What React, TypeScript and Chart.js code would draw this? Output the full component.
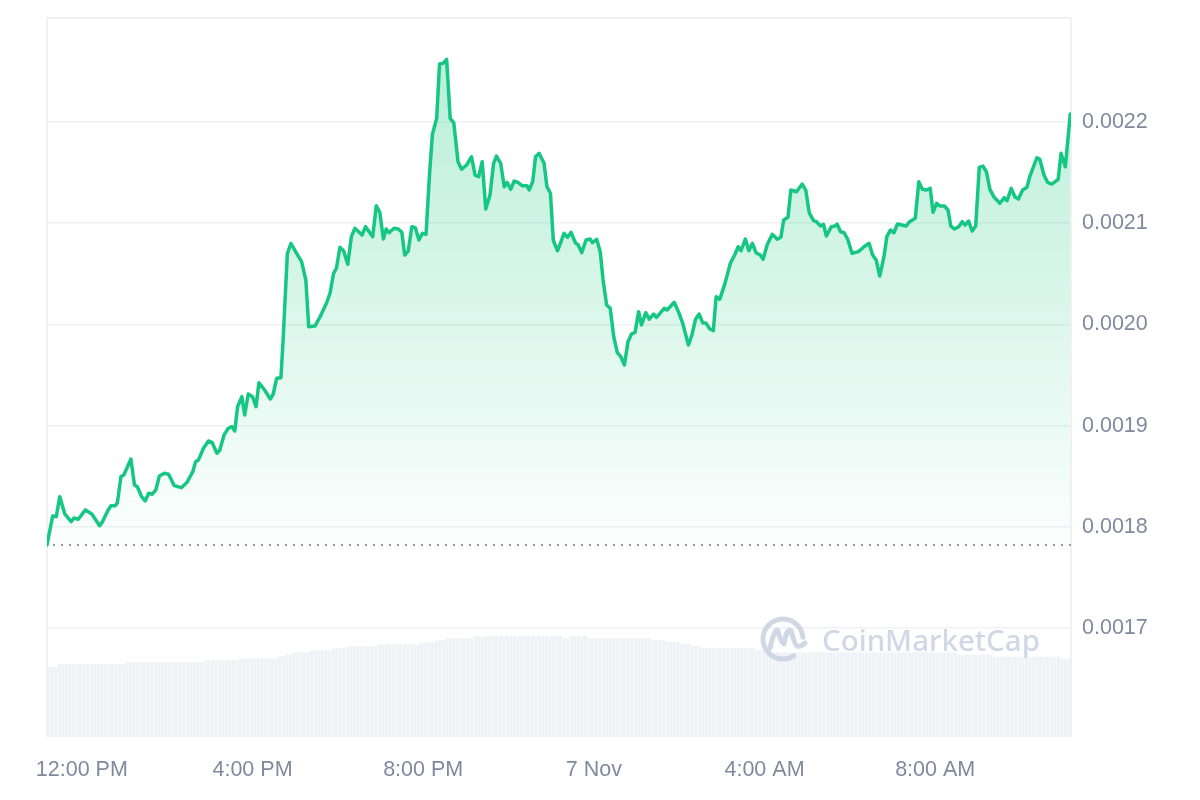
import React, { useEffect, useRef } from "react";
import { Chart, registerables } from "chart.js";
Chart.register(...registerables);

// minutes since 00:00, 6 Nov
const priceTimes = [
  671, 679, 684, 689, 696, 705, 709, 715, 725, 734,
  745, 749, 757, 761, 767, 770, 775, 779, 789, 794,
  798, 804, 809, 814, 819, 824, 829, 836, 842, 850,
  860, 868, 876, 880, 884, 891, 898, 903, 910, 914,
  920, 926, 931, 935, 939, 945, 949, 954, 960, 965,
  969, 977, 985, 989, 994, 1000, 1003, 1009, 1014, 1022,
  1029, 1035, 1039, 1048, 1055, 1064, 1069, 1074, 1078, 1083,
  1088, 1094, 1099, 1104, 1114, 1119, 1129, 1134, 1139, 1144,
  1148, 1152, 1159, 1165, 1170, 1174, 1179, 1184, 1189, 1194,
  1199, 1204, 1209, 1213, 1219, 1223, 1228, 1233, 1238, 1243,
  1249, 1254, 1261, 1268, 1273, 1278, 1283, 1288, 1294, 1299,
  1303, 1309, 1314, 1318, 1323, 1328, 1334, 1339, 1346, 1349,
  1354, 1358, 1363, 1370, 1374, 1379, 1383, 1389, 1393, 1398,
  1403, 1408, 1414, 1418, 1423, 1429, 1435, 1438, 1444, 1449,
  1453, 1458, 1463, 1468, 1473, 1478, 1483, 1488, 1493, 1498,
  1503, 1507, 1513, 1518, 1524, 1528, 1539, 1543, 1553, 1559,
  1565, 1573, 1578, 1583, 1588, 1593, 1598, 1603, 1608, 1612,
  1617, 1624, 1632, 1638, 1643, 1647, 1653, 1658, 1663, 1668,
  1674, 1678, 1684, 1691, 1698, 1703, 1707, 1713, 1717, 1725,
  1733, 1738, 1743, 1749, 1753, 1759, 1763, 1767, 1774, 1779,
  1782, 1787, 1792, 1797, 1803, 1812, 1820, 1827, 1832, 1837,
  1842, 1848, 1852, 1857, 1862, 1867, 1879, 1884, 1892, 1897,
  1902, 1908, 1913, 1917, 1922, 1927, 1933, 1938, 1942, 1947,
  1953, 1958, 1962, 1967, 1972, 1977, 1982, 1987, 1992, 1997,
  2003, 2011, 2017, 2021, 2027, 2032, 2037, 2043, 2049, 2053,
  2063, 2067, 2073, 2078, 2084, 2093, 2097, 2103, 2110,
];

const priceValues = [
  0.0017821, 0.0018107, 0.00181, 0.0018298, 0.0018127, 0.0018051, 0.0018087, 0.0018075, 0.0018167, 0.0018127,
  0.0018011, 0.0018051, 0.0018167, 0.0018209, 0.0018209, 0.0018239, 0.0018496, 0.0018512, 0.001867, 0.0018414,
  0.0018397, 0.0018298, 0.0018255, 0.0018332, 0.0018322, 0.0018364, 0.0018502, 0.0018529, 0.0018519, 0.0018407,
  0.0018387, 0.001844, 0.0018545, 0.0018644, 0.0018661, 0.0018776, 0.0018848, 0.0018835, 0.0018727, 0.0018759,
  0.0018908, 0.0018974, 0.001899, 0.0018947, 0.0019187, 0.0019286, 0.0019105, 0.0019313, 0.0019286, 0.0019187,
  0.0019424, 0.0019352, 0.0019263, 0.001931, 0.0019468, 0.0019474, 0.0019846, 0.0020701, 0.00208, 0.0020703,
  0.002062, 0.0020439, 0.0019978, 0.0019985, 0.0020076, 0.0020209, 0.0020308, 0.0020505, 0.0020555, 0.0020762,
  0.0020728, 0.0020594, 0.0020867, 0.002095, 0.0020884, 0.0020966, 0.0020867, 0.0021173, 0.0021108, 0.0020844,
  0.0020943, 0.0020906, 0.002095, 0.0020943, 0.002091, 0.0020686, 0.0020725, 0.0020966, 0.0020956, 0.0020834,
  0.00209, 0.002089, 0.0021493, 0.0021878, 0.0022037, 0.0022573, 0.002258, 0.0022619, 0.0022037, 0.0021993,
  0.0021608, 0.0021533, 0.0021575, 0.0021657, 0.0021476, 0.002146, 0.0021608, 0.002114, 0.0021279, 0.0021592,
  0.0021664, 0.0021592, 0.0021361, 0.0021404, 0.0021335, 0.0021417, 0.00214, 0.0021371, 0.0021371, 0.0021328,
  0.002141, 0.0021657, 0.0021691, 0.0021592, 0.0021361, 0.0021296, 0.0020829, 0.0020728, 0.0020802, 0.00209,
  0.0020861, 0.002091, 0.0020807, 0.0020785, 0.0020709, 0.0020834, 0.0020844, 0.0020807, 0.0020841, 0.0020719,
  0.0020439, 0.0020192, 0.0020159, 0.0019879, 0.0019721, 0.0019681, 0.0019599, 0.0019829, 0.0019905, 0.0019922,
  0.0020126, 0.0019994, 0.0020116, 0.0020051, 0.0020103, 0.002007, 0.0020159, 0.0020143, 0.0020219, 0.0020126,
  0.0020011, 0.0019797, 0.0019896, 0.0020051, 0.0020103, 0.0020017, 0.0020011, 0.0019955, 0.0019938, 0.0020274,
  0.0020248, 0.0020396, 0.0020604, 0.0020686, 0.0020768, 0.0020728, 0.0020844, 0.0020728, 0.0020802, 0.0020709,
  0.0020686, 0.0020643, 0.0020792, 0.002089, 0.0020841, 0.0020861, 0.0021032, 0.0021058, 0.0021328, 0.0021311,
  0.0021387, 0.0021328, 0.0021101, 0.0021025, 0.0021015, 0.0020972, 0.0020989, 0.0020874, 0.0020966, 0.0020972,
  0.0020992, 0.0020916, 0.0020906, 0.0020841, 0.0020703, 0.0020719, 0.0020768, 0.0020802, 0.0020686, 0.0020637,
  0.0020478, 0.0020669, 0.0020867, 0.0020933, 0.0020906, 0.0020992, 0.0020972, 0.0021015, 0.0021049, 0.002141,
  0.0021335, 0.0021328, 0.0021345, 0.0021108, 0.0021197, 0.002117, 0.002117, 0.0021131, 0.0020972, 0.0020943,
  0.0020966, 0.0021015, 0.0020982, 0.0021022, 0.0020923, 0.0020972, 0.0021552, 0.0021565, 0.0021509, 0.0021335,
  0.0021256, 0.0021197, 0.0021252, 0.0021222, 0.0021345, 0.0021262, 0.0021239, 0.0021328, 0.0021355, 0.002146,
  0.0021647, 0.0021634, 0.0021476, 0.0021404, 0.0021387, 0.0021434, 0.0021691, 0.0021558, 0.0022079,
];

const openPrice = 0.001782;

// 5-minute volume bars (relative units)
const volumeValues = [
  7.0, 7.0, 7.0,
  7.27, 7.27, 7.27, 7.27, 7.27, 7.27, 7.27, 7.27, 7.27, 7.27,
  7.27, 7.27, 7.27, 7.27, 7.27, 7.27, 7.27, 7.27, 7.27,
  7.47, 7.47, 7.47, 7.47, 7.47, 7.47, 7.47, 7.47, 7.47, 7.47, 7.47,
  7.47, 7.47, 7.47, 7.47, 7.47, 7.47, 7.47, 7.47, 7.47, 7.47, 7.47,
  7.67, 7.67, 7.67, 7.67, 7.67, 7.67, 7.67, 7.67, 7.67, 7.67,
  7.87, 7.87, 7.87, 7.87, 7.87, 7.87, 7.87, 7.87, 7.87, 7.87, 7.87,
  8.07, 8.07,
  8.27, 8.27,
  8.47, 8.47, 8.47, 8.47, 8.47,
  8.67, 8.67, 8.67, 8.67, 8.67, 8.67,
  8.87, 8.87, 8.87, 8.87,
  9.07, 9.07, 9.07, 9.07, 9.07, 9.07, 9.07, 9.07, 9.07,
  9.27, 9.27, 9.27, 9.27, 9.27, 9.27, 9.27, 9.27, 9.27, 9.27, 9.27, 9.27,
  9.47, 9.47, 9.47, 9.47,
  9.67, 9.67, 9.67,
  9.87, 9.87, 9.87, 9.87, 9.87, 9.87, 9.87, 9.87,
  10.1, 10.1,
  9.97,
  10.1, 10.1, 10.1, 10.1, 10.1, 10.1, 10.1, 10.1, 10.1, 10.1, 10.1,
  10.1, 10.1, 10.1, 10.1, 10.1, 10.1, 10.1, 10.1, 10.1, 10.1, 10.1,
  9.87, 9.87,
  10.1, 10.1, 10.1, 10.1, 10.1,
  9.87, 9.87, 9.87, 9.87, 9.87, 9.87, 9.87, 9.87, 9.87,
  9.87, 9.87, 9.87, 9.87, 9.87, 9.87, 9.87, 9.87, 9.87,
  9.7, 9.7, 9.7, 9.7,
  9.5, 9.5, 9.5, 9.5,
  9.3, 9.3, 9.3,
  9.1, 9.1, 9.1,
  8.9, 8.9, 8.9, 8.9, 8.9, 8.9, 8.9, 8.9, 8.9, 8.9, 8.9, 8.9, 8.9, 8.9, 8.9,
  8.7, 8.7, 8.7, 8.7, 8.7,
  8.47, 8.47, 8.47, 8.47, 8.47, 8.47, 8.47, 8.47, 8.47, 8.47, 8.47, 8.47, 8.47,
  8.47, 8.47, 8.47, 8.47, 8.47, 8.47, 8.47, 8.47, 8.47, 8.47, 8.47, 8.47, 8.47,
  8.47, 8.47, 8.47, 8.47, 8.47, 8.47, 8.47, 8.47, 8.47, 8.47, 8.47, 8.47, 8.47,
  8.47, 8.47, 8.47, 8.47, 8.47, 8.47, 8.47, 8.47, 8.47, 8.47, 8.47, 8.47, 8.47,
  8.23, 8.23, 8.23, 8.23, 8.23, 8.23, 8.23, 8.23, 8.23, 8.23,
  8.03, 8.03, 8.03, 8.03, 8.03, 8.03, 8.03, 8.03, 8.03, 8.03,
  8.03, 8.03, 8.03, 8.03, 8.03, 8.03, 8.03, 8.03, 8.03,
  7.83, 7.83, 7.83,
];
const volumeStart = 671;
const volumeStepMinutes = 5;

const yTicks = [0.0017, 0.0018, 0.0019, 0.002, 0.0021, 0.0022];
const xTickTimes = [720, 960, 1200, 1440, 1680, 1920];
const xTickLabels = ["12:00 PM", "4:00 PM", "8:00 PM", "7 Nov", "4:00 AM", "8:00 AM"];

const X_MIN = 671;
const X_MAX = 2111;
const Y_MIN = 0.0015923;
const Y_MAX = 0.0023028;

const GREEN = "#16c784";
const TEXT = "#808a9d";
const GRID = "#eff1f4";
const FONT = '"Liberation Sans", Arial, sans-serif';

const framePlugin = {
  id: "frame",
  beforeDatasetsDraw(chart: any) {
    const { ctx, chartArea } = chart;
    ctx.save();
    ctx.strokeStyle = GRID;
    ctx.lineWidth = 2;
    ctx.beginPath();
    ctx.moveTo(chartArea.left, chartArea.bottom);
    ctx.lineTo(chartArea.left, chartArea.top);
    ctx.lineTo(chartArea.right, chartArea.top);
    ctx.lineTo(chartArea.right, chartArea.bottom);
    ctx.stroke();
    ctx.restore();
  },
};

const baselinePlugin = {
  id: "baseline",
  afterDatasetsDraw(chart: any) {
    const { ctx, chartArea, scales } = chart;
    const y = Math.round(scales.y.getPixelForValue(openPrice));
    ctx.save();
    ctx.strokeStyle = "#9a9a9a";
    ctx.lineWidth = 2;
    ctx.setLineDash([2, 6]);
    ctx.beginPath();
    ctx.moveTo(chartArea.left + 6, y);
    ctx.lineTo(chartArea.right, y);
    ctx.stroke();
    ctx.restore();
  },
};

const watermarkPlugin = {
  id: "watermark",
  afterDatasetsDraw(chart: any) {
    const { ctx, chartArea } = chart;
    const col = "rgba(200,208,224,0.85)";
    const cx = chartArea.right - 288;
    const cy = chartArea.bottom - 98;
    const r = 20;
    ctx.save();
    ctx.strokeStyle = col;
    ctx.lineWidth = 5;
    ctx.lineCap = "round";
    ctx.lineJoin = "round";
    ctx.beginPath();
    ctx.arc(cx, cy, r, 0.32 * Math.PI, 1.97 * Math.PI);
    ctx.stroke();
    ctx.beginPath();
    ctx.moveTo(cx - 13, cy + 9);
    ctx.quadraticCurveTo(cx - 8, cy - 12, cx - 5, cy - 8);
    ctx.quadraticCurveTo(cx - 2, cy + 4, cx + 1, cy + 5);
    ctx.quadraticCurveTo(cx + 4, cy - 12, cx + 8, cy - 8);
    ctx.quadraticCurveTo(cx + 12, cy + 6, cx + 14, cy + 7);
    ctx.quadraticCurveTo(cx + 18, cy + 8, cx + 22, cy + 4);
    ctx.stroke();
    ctx.fillStyle = col;
    let size = 29;
    ctx.font = `500 ${size}px "Noto Sans", sans-serif`;
    const w = ctx.measureText("CoinMarketCap").width;
    size = (size * 218) / w;
    ctx.font = `500 ${size}px "Noto Sans", sans-serif`;
    ctx.textBaseline = "alphabetic";
    ctx.fillText("CoinMarketCap", cx + 39, cy + 12);
    ctx.restore();
  },
};

export default function App() {
  const ref = useRef<HTMLCanvasElement | null>(null);

  useEffect(() => {
    if (!ref.current) return;
    const pricePoints = priceTimes.map((t, i) => ({ x: t, y: priceValues[i] }));
    const volumePoints = volumeValues.map((v, i) => ({
      x: volumeStart + volumeStepMinutes * i + volumeStepMinutes / 2,
      y: v,
    }));

    const chart = new Chart(ref.current, {
      type: "line",
      data: {
        datasets: [
          {
            type: "line",
            data: pricePoints,
            borderColor: GREEN,
            borderWidth: 3.5,
            borderJoinStyle: "round",
            borderCapStyle: "round",
            pointRadius: 0,
            tension: 0,
            yAxisID: "y",
            order: 1,
            fill: { value: openPrice },
            backgroundColor: (c: any) => {
              const ch = c.chart;
              const area = ch.chartArea;
              if (!area) return "rgba(22,199,132,0.15)";
              const yb = ch.scales.y.getPixelForValue(openPrice);
              const g = ch.ctx.createLinearGradient(0, area.top + 40, 0, yb);
              g.addColorStop(0, "rgba(22,199,132,0.30)");
              g.addColorStop(0.5, "rgba(22,199,132,0.16)");
              g.addColorStop(1, "rgba(22,199,132,0.01)");
              return g;
            },
          } as any,
          {
            type: "bar",
            data: volumePoints,
            backgroundColor: "#eef1f5",
            borderWidth: 0,
            barPercentage: 1,
            categoryPercentage: 0.86,
            yAxisID: "vol",
            order: 2,
          } as any,
        ],
      },
      options: {
        animation: false,
        responsive: true,
        maintainAspectRatio: false,
        layout: { padding: { left: 47, top: 18, right: 0, bottom: 0 } },
        plugins: { legend: { display: false }, tooltip: { enabled: false } },
        scales: {
          x: {
            type: "linear",
            min: X_MIN,
            max: X_MAX,
            offset: false,
            grid: { display: false, drawTicks: false },
            border: { display: false },
            afterBuildTicks: (s: any) => {
              s.ticks = xTickTimes.map((v) => ({ value: v }));
            },
            afterFit: (s: any) => {
              s.height = 63;
              s.paddingLeft = 0;
              s.paddingRight = 0;
            },
            ticks: {
              autoSkip: false,
              maxRotation: 0,
              padding: 20,
              color: TEXT,
              font: { family: FONT, size: 21.5 },
              callback: (v: any) => {
                const i = xTickTimes.indexOf(Number(v));
                return i >= 0 ? xTickLabels[i] : "";
              },
            },
          },
          y: {
            position: "right",
            min: Y_MIN,
            max: Y_MAX,
            grid: { color: GRID, lineWidth: 1.5, drawTicks: false },
            border: { display: false },
            afterBuildTicks: (s: any) => {
              s.ticks = yTicks.map((v) => ({ value: v }));
            },
            afterFit: (s: any) => {
              s.width = 129;
              s.paddingTop = 0;
              s.paddingBottom = 0;
            },
            ticks: {
              padding: 11,
              color: TEXT,
              font: { family: FONT, size: 21.5 },
              callback: (v: any) => Number(v).toFixed(4),
            },
          },
          vol: {
            display: false,
            min: 0,
            max: 71.9,
          },
        },
      },
      plugins: [framePlugin, baselinePlugin, watermarkPlugin],
    });
    return () => chart.destroy();
  }, []);

  return (
    <div style={{ position: "fixed", left: 0, top: 0, width: 1200, height: 800, background: "#fff" }}>
      <canvas ref={ref} />
    </div>
  );
}
